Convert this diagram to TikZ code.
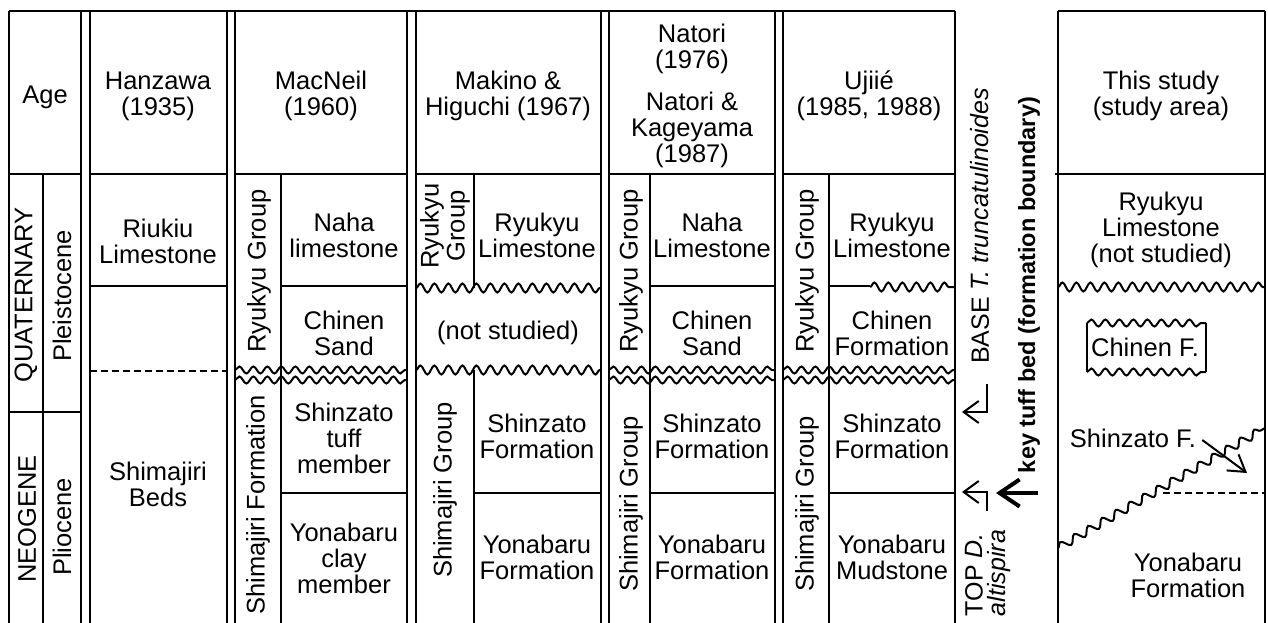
\documentclass[tikz,border=0pt]{standalone}
\usepackage{fontspec}
\setmainfont{Liberation Sans}
\usetikzlibrary{arrows.meta,decorations.pathmorphing}
\begin{document}
\begin{tikzpicture}[x=1pt,y=-1pt,
  every node/.style={font=\fontsize{25.5}{26}\selectfont, inner sep=0pt, align=center},
  ln/.style={line width=2pt},
  topln/.style={line width=2.5pt},
  dsh/.style={line width=2pt, dash pattern=on 7pt off 4pt},
  wav/.style={line width=2pt, decorate, decoration={snake, segment length=14pt, amplitude=4.5pt}},
  wavd/.style={line width=2pt, decorate, decoration={snake, segment length=14pt, amplitude=3.5pt}},
  wavdiag/.style={line width=2pt, decorate, decoration={snake, segment length=16pt, amplitude=4pt}},
  rot/.style={rotate=90},
  barb/.style={line width=2pt, -{Straight Barb[length=15pt, width=22pt]}},
  boldbarb/.style={line width=4pt, -{Straight Barb[length=20pt, width=27pt]}},
  smallbarb/.style={line width=2pt, -{Straight Barb[length=16pt, width=20pt]}}
]
\useasboundingbox (0,0) rectangle (1268,623);
% ---------------- frame ----------------
\draw[topln] (9,11) -- (955,11);
\foreach \xx in {9,81,90,227,235,407,416,601,609,775,783,955}
  \draw[ln] (\xx,11) -- (\xx,623);
\foreach \a/\b in {9/81,90/227,235/407,416/601,609/775,783/955}
  \draw[ln] (\a,174) -- (\b,174);
% Age
\draw[ln] (43,174) -- (43,623);
\draw[ln] (9,412) -- (81,412);
% Hanzawa
\draw[ln] (90,286) -- (227,286);
\draw[dsh] (90,371) -- (227,371);
% MacNeil
\draw[ln] (281,174) -- (281,623);
\draw[ln] (281,286) -- (407,286);
\draw[wavd] (235,370) -- (407,370);
\draw[wavd] (235,380) -- (407,380);
\draw[ln] (281,493) -- (407,493);
% Makino & Higuchi
\draw[ln] (474,174) -- (474,288);
\draw[wav] (416,288) -- (601,288);
\draw[wav] (416,370) -- (601,370);
\draw[ln] (474,370) -- (474,623);
\draw[ln] (474,493) -- (601,493);
% Natori
\draw[ln] (650,174) -- (650,623);
\draw[ln] (650,286) -- (775,286);
\draw[wavd] (609,370) -- (775,370);
\draw[wavd] (609,380) -- (775,380);
\draw[ln] (650,493) -- (775,493);
% Ujiie
\draw[ln] (829,174) -- (829,623);
\draw[ln] (829,286) -- (870,286);
\draw[wav] (870,287) -- (955,287);
\draw[wavd] (783,370) -- (955,370);
\draw[wavd] (783,380) -- (955,380);
\draw[ln] (829,493) -- (955,493);
% This study
\draw[ln] (1058,623) -- (1058,11);
\draw[topln] (1058,11) -- (1265,11);
\draw[ln] (1265,11) -- (1265,623);
\draw[ln] (1055,174) -- (1265,174);
\draw[wav] (1058,287) -- (1265,287);
\draw[ln] (1087,323) -- (1087,372);
\draw[ln] (1206,323) -- (1206,372);
\draw[wavd] (1087,323) -- (1206,323);
\draw[wavd] (1087,372) -- (1206,372);
\draw[wavdiag] (1058,548) -- (1265,428);
\draw[dsh] (1163,493) -- (1265,493);
% ---------------- headers ----------------
\node (age) at (45,97) {Age};
\node (hanz) at (158,96) {Hanzawa\\(1935)};
\node (macn) at (321,96) {MacNeil\\(1960)};
\node (maki) at (508,96) {Makino \&\\Higuchi (1967)};
\node (nato) at (692,96) {Natori\\(1976)\\[16pt]Natori \&\\Kageyama\\(1987)};
\node (ujii) at (869,96) {Ujiié\\(1985, 1988)};
\node (this) at (1161,96) {This study\\(study area)};
% ---------------- age ----------------
\node[rot] (quat) at (26,295) {QUATERNARY};
\node[rot] (pleis) at (62,296) {Pleistocene};
\node[rot] (neog) at (27,519) {NEOGENE};
\node[rot] (plio) at (62,527) {Pliocene};
% ---------------- Hanzawa ----------------
\node (riuk) at (158,241) {Riukiu\\Limestone};
\node (shbeds) at (158,484) {Shimajiri\\Beds};
% ---------------- MacNeil ----------------
\node[rot] (mRG) at (259,271) {Ryukyu Group};
\node (mNaha) at (344,235) {Naha\\limestone};
\node (mChin) at (344,333) {Chinen\\Sand};
\node[rot] (mSF) at (258,505) {Shimajiri Formation};
\node (mShin) at (344,438) {Shinzato\\tuff\\member};
\node (mYona) at (344,558) {Yonabaru\\clay\\member};
% ---------------- Makino ----------------
\node[rot] (kRG) at (445,226) {Ryukyu\\Group};
\node (kRL) at (537,235) {Ryukyu\\Limestone};
\node (kNS) at (508,333) {(not studied)};
\node[rot] (kSG) at (445,490) {Shimajiri Group};
\node (kShin) at (537,436) {Shinzato\\Formation};
\node (kYona) at (537,557) {Yonabaru\\Formation};
% ---------------- Natori ----------------
\node[rot] (nRG) at (631,271) {Ryukyu Group};
\node (nNaha) at (712,235) {Naha\\Limestone};
\node (nChin) at (712,333) {Chinen\\Sand};
\node[rot] (nSG) at (631,504) {Shimajiri Group};
\node (nShin) at (712,436) {Shinzato\\Formation};
\node (nYona) at (712,557) {Yonabaru\\Formation};
% ---------------- Ujiie ----------------
\node[rot] (uRG) at (807,271) {Ryukyu Group};
\node (uRL) at (892,235) {Ryukyu\\Limestone};
\node (uChin) at (892,333) {Chinen\\Formation};
\node[rot] (uSG) at (807,504) {Shimajiri Group};
\node (uShin) at (892,436) {Shinzato\\Formation};
\node (uYona) at (892,557) {Yonabaru\\Mudstone};
% ---------------- markers ----------------
\node[rot, font=\fontsize{25}{26}\selectfont] (base) at (980,226) {BASE \textit{T. truncatulinoides}};
\node[rot, font=\bfseries\fontsize{23.5}{24}\selectfont] (ktb) at (1029,285) {key tuff bed (formation boundary)};
\node[rot, align=left, font=\fontsize{25}{23}\selectfont] (top) at (988,573) {TOP \textit{D.}\\\textit{altispira}};
\coordinate (bA) at (987,384);
\coordinate (bT) at (962,412);
\draw[barb] (bA) |- (bT);
\coordinate (tA) at (987,511);
\coordinate (tT) at (962,492);
\draw[barb] (tA) |- (tT);
\coordinate (kA) at (1038,493);
\coordinate (kT) at (996,493);
\draw[boldbarb] (kA) -- (kT);
% ---------------- This study ----------------
\node (tRL) at (1161,230) {Ryukyu\\Limestone\\(not studied)};
\node (tChin) at (1145,347) {Chinen F.};
\node (tShin) at (1133,438) {Shinzato F.};
\coordinate (sT) at (1247,473);
\draw[smallbarb] (tShin.east) ++(6,2) -- (sT);
\node (tYona) at (1188,575) {Yonabaru\\Formation};
\end{tikzpicture}
\end{document}
